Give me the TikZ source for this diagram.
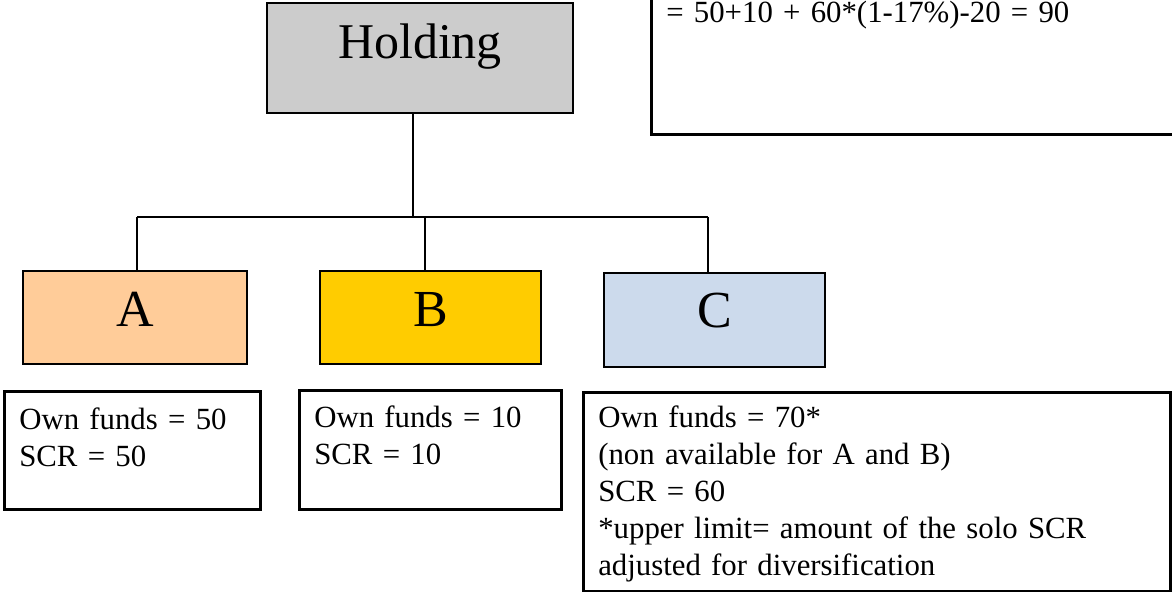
\documentclass[tikz,border=0pt]{standalone}
\usepackage{fontspec}
\setmainfont{Liberation Serif}
\definecolor{holdgray}{RGB}{204,204,204}
\definecolor{peach}{RGB}{255,204,153}
\definecolor{gold}{RGB}{255,204,0}
\definecolor{paleblue}{RGB}{204,218,236}
\tikzset{
  entity/.style={draw, line width=1pt, anchor=north west, inner sep=0pt,
    font=\fontsize{26}{30}\selectfont},
  infobox/.style={draw, line width=1.3pt, anchor=north west, inner xsep=7.5pt,
    inner ysep=0pt, align=left, font=\fontsize{15.4}{18.5}\selectfont},
  link/.style={line width=1pt}
}
\begin{document}
\begin{tikzpicture}[x=0.5pt, y=-0.5pt]
  \useasboundingbox (0,0) rectangle (1172,592);
  \clip (0,0) rectangle (1172,592);
  % group result, cut by the page edge
  \node[infobox, text width=310pt, text height=40.5pt, text depth=56pt] (total) at (650,-60)
    {= 50+10 + 60*(1-17\%)-20 = 90};
  \node[entity, fill=holdgray, minimum width=153pt, text height=28pt, text depth=27pt,
    font=\fontsize{25}{30}\selectfont] (holding) at (266,2) {Holding};
  \node[entity, fill=peach, minimum width=112pt, text height=28pt, text depth=18.5pt] (compA) at (22,270) {A};
  \node[entity, fill=gold, minimum width=110.5pt, text height=28pt, text depth=18.5pt] (compB) at (319,270) {B};
  \node[entity, fill=paleblue, minimum width=110.5pt, text height=27.5pt, text depth=19.5pt] (compC) at (603,272) {C};
  \coordinate (hub) at (413,217);
  \coordinate (tapA) at (137,217);
  \coordinate (tapB) at (425,217);
  \coordinate (tapC) at (708,217);
  \draw[link] (hub |- holding.south) -- (hub);
  \draw[link] (tapA) -- (tapC);
  \draw[link] (tapA) -- (tapA |- compA.north);
  \draw[link] (tapB) -- (tapB |- compB.north);
  \draw[link] (tapC) -- (tapC |- compC.north);
  \node[infobox, text width=113pt, text height=19pt, text depth=40pt] (infoA) at (3,390)
    {Own funds = 50\\SCR = 50};
  \node[infobox, text width=116pt, text height=18.5pt, text depth=41pt] (infoB) at (298,389)
    {Own funds = 10\\SCR = 10};
  \node[infobox, text width=278.5pt, text height=17.5pt, text depth=82pt] (infoC) at (582,391)
    {Own funds = 70*\\(non available for A and B)\\SCR = 60\\{*}upper limit= amount of the solo SCR\\adjusted for diversification};
\end{tikzpicture}
\end{document}
